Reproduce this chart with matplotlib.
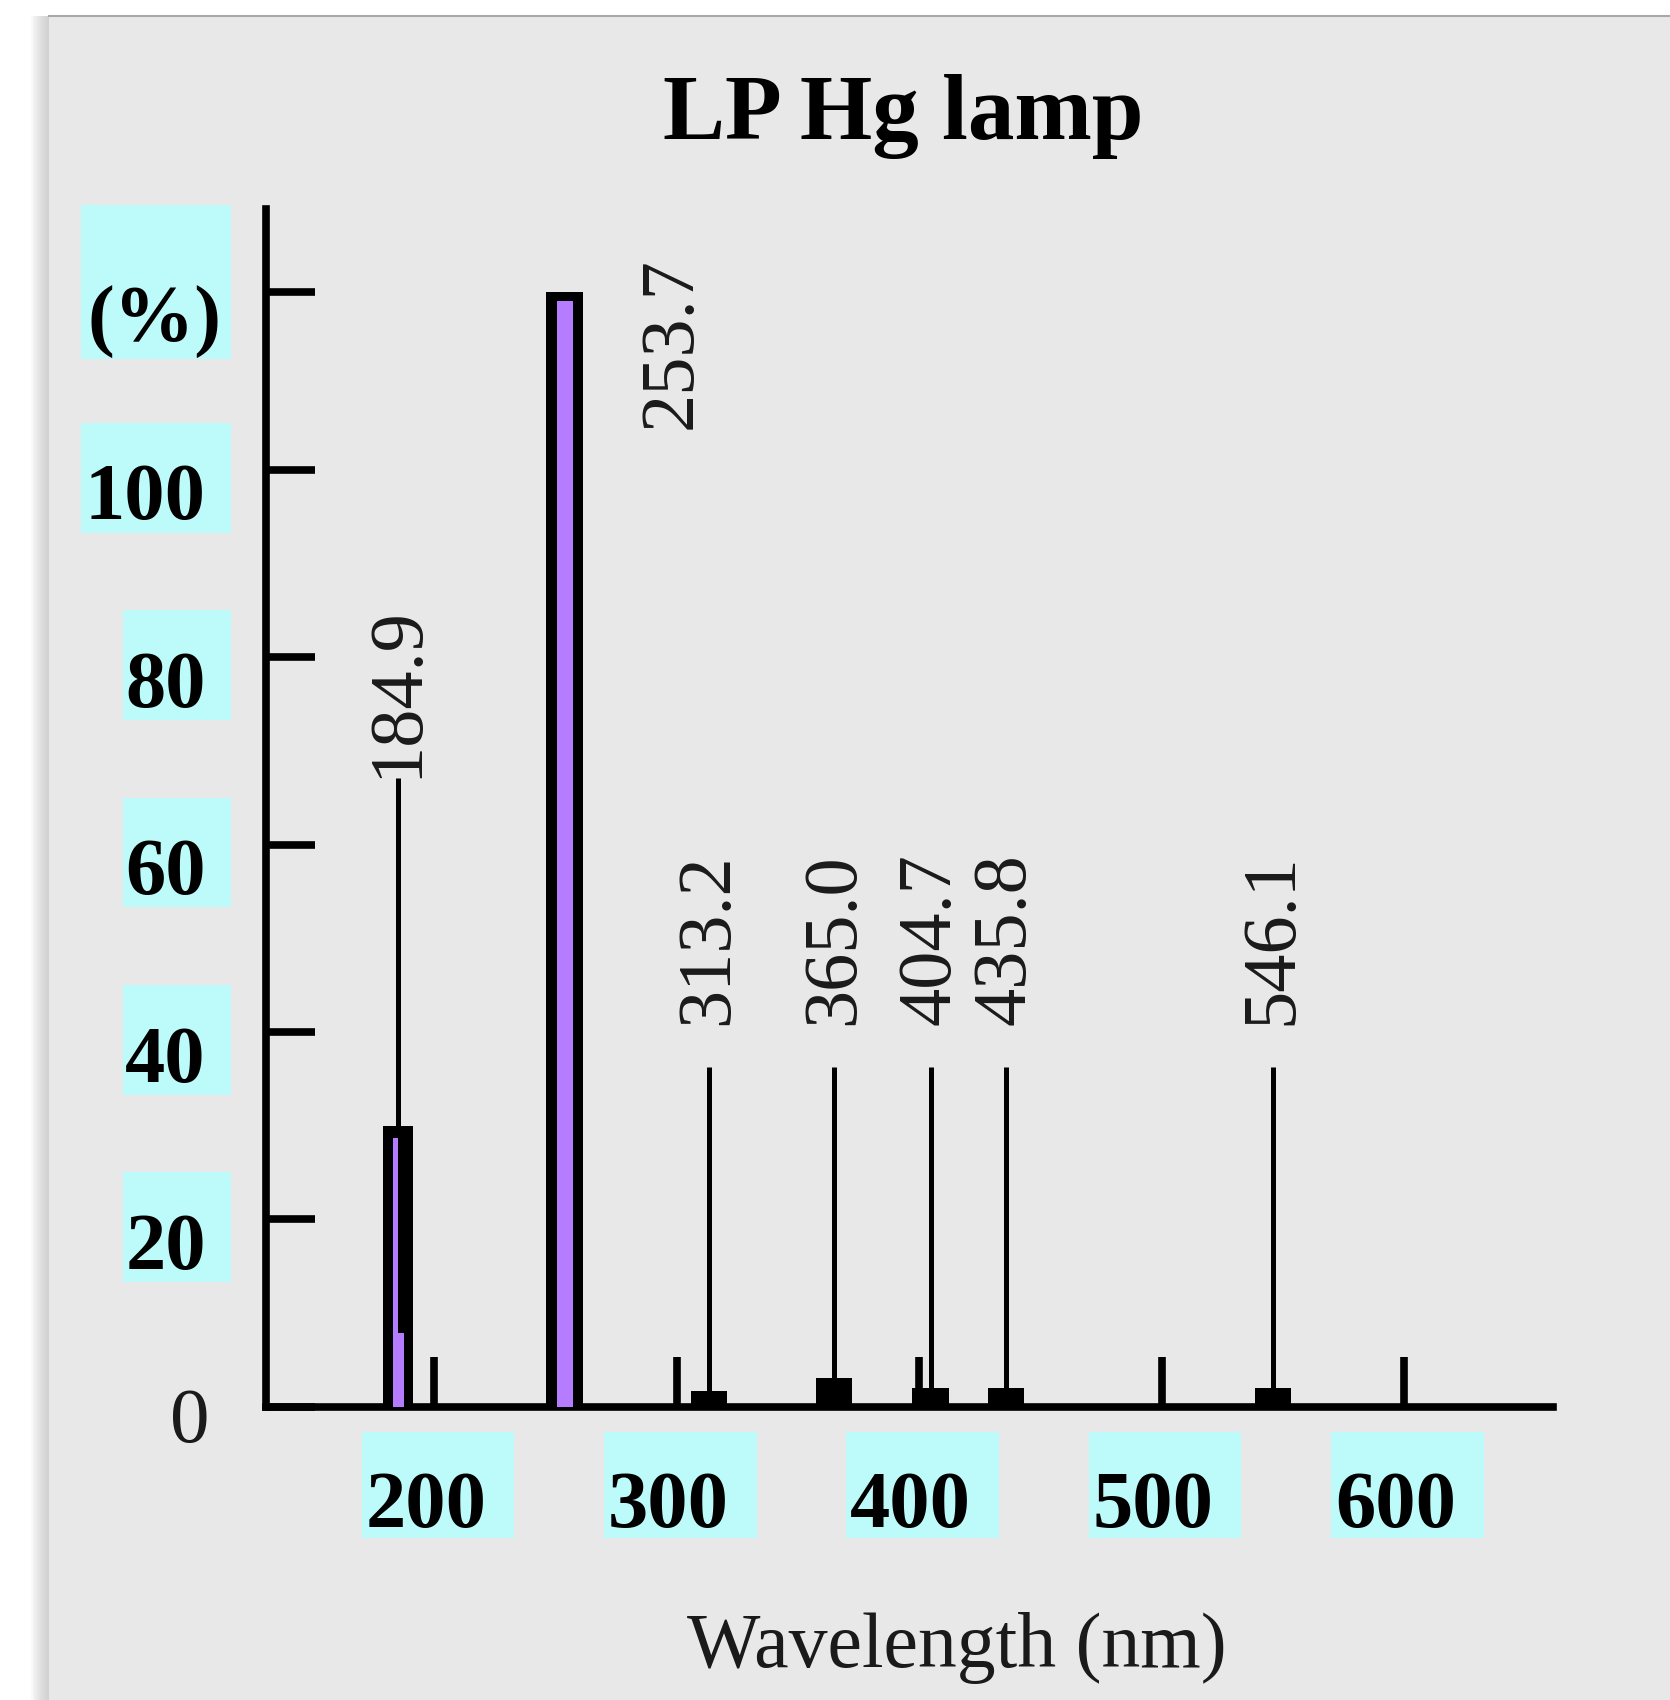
import numpy as np
import matplotlib.pyplot as plt
from matplotlib.patches import Rectangle

# Hg low-pressure lamp emission lines (nm) and relative intensity (%)
BIG_LINES = [184.9, 253.7]
BIG_HEIGHTS = [30.0, 119.0]
BIG_INNER = [7.9, 118.0]         # purple fill level inside the bars

SMALL_LINES = [313.2, 365.0, 404.7, 435.8, 546.1]
SMALL_HEIGHTS = [1.7, 3.1, 2.0, 2.0, 2.0]
LEADER_TOP = 36.3                 # top of the thin leader lines
LEADER_184 = 67.1                 # leader above the 184.9 bar

LINE_LABELS = ["184.9", "253.7", "313.2", "365.0", "404.7", "435.8", "546.1"]

Y_TICKS = [0, 20, 40, 60, 80, 100, 119]
Y_LABELS = ["0", "20", "40", "60", "80", "100", "(%)"]
X_TICKS = [200, 300, 400, 500, 600]
X_LABELS = ["200", "300", "400", "500", "600"]

PURPLE = "#B67CFF"
CYAN = "#BDFAFA"
SERIF = "Liberation Serif"

fig = plt.figure(figsize=(16.7, 17), dpi=100, facecolor="white")

# grey panel with a soft shadow on the left / top
for i in range(12):
    fig.patches.append(Rectangle((31 / 1670 + i * 1.5 / 1670, 0), 1, 1 - 16 / 1700,
                                 transform=fig.transFigure, facecolor="#B8B8B8",
                                 alpha=0.07, edgecolor="none", zorder=-10))
fig.patches.append(Rectangle((49 / 1670, 0), 1, 1 - 16 / 1700, transform=fig.transFigure,
                             facecolor="#E8E8E8", edgecolor="none", zorder=-9))
fig.lines.append(plt.Line2D([49 / 1670, 1], [1 - 16 / 1700] * 2, transform=fig.transFigure,
                            color="#A8A8A8", lw=1.5, zorder=-8))

ax = fig.add_axes([0.1591, 0.1726, 0.7708, 0.7042])
ax.set_facecolor("none")
ax.set_xlim(130.4, 661.5)
ax.set_ylim(0, 127.8)

for s in ["top", "right"]:
    ax.spines[s].set_visible(False)
for s in ["left", "bottom"]:
    ax.spines[s].set_linewidth(5.5)

ax.set_yticks(Y_TICKS)
ax.set_xticks(X_TICKS)
ax.tick_params(axis="y", direction="in", length=35, width=5.5, labelleft=False)
ax.tick_params(axis="x", direction="in", length=36, width=5.5, labelbottom=False)

# big bars: black body with purple core
ax.bar(BIG_LINES[0], BIG_HEIGHTS[0], width=12.4, color="black", zorder=2)
ax.bar(BIG_LINES[0] - 2.0, BIG_HEIGHTS[0] - 1.3, width=2.0, align="edge", color=PURPLE, zorder=3)
ax.bar(BIG_LINES[0] - 2.0, BIG_INNER[0], width=4.5, align="edge", color=PURPLE, zorder=3)
ax.vlines(BIG_LINES[0], BIG_HEIGHTS[0], LEADER_184, color="black", lw=3.6, zorder=2)

ax.bar(BIG_LINES[1], BIG_HEIGHTS[1], width=14.9, color="black", zorder=2)
ax.bar(BIG_LINES[1], BIG_INNER[1], width=6.6, color=PURPLE, zorder=3)

# small lines: base block plus thin leader
ax.bar(SMALL_LINES, SMALL_HEIGHTS, width=15, color="black", zorder=2)
ax.vlines(SMALL_LINES, 0, LEADER_TOP, color="black", lw=3.6, zorder=2)

# rotated wavelength labels
txt = dict(rotation=90, ha="center", va="bottom", family=SERIF, fontsize=55, color="#1a1a1a")
ax.text(BIG_LINES[0], LEADER_184, LINE_LABELS[0], **txt)
ax.text(BIG_LINES[1] + 44.3, 104.4, LINE_LABELS[1], **txt)
for wl, lab in zip(SMALL_LINES, LINE_LABELS[2:]):
    ax.text(wl, LEADER_TOP + 4.4, lab, **txt)

# y tick labels with cyan boxes
ytr = ax.get_yaxis_transform()
for v, lab in zip(Y_TICKS, Y_LABELS):
    if v == 0:
        ax.text(-0.0588, -3.8, lab, transform=ytr, ha="center", va="baseline",
                family=SERIF, fontsize=57, color="#1a1a1a", clip_on=False)
        continue
    x0 = -0.1435 if len(lab) == 3 else -0.111
    lo, hi = (-7.2, 9.3) if lab == "(%)" else (-6.7, 5.0)
    xr = -0.034 if lab == "(%)" else -0.0464
    ax.add_patch(Rectangle((x0, v + lo), -0.027 - x0, hi - lo, transform=ytr,
                           facecolor=CYAN, edgecolor="none", clip_on=False, zorder=1))
    ax.text(xr, v - 5.3, lab, transform=ytr, ha="right", va="baseline",
            family=SERIF, fontsize=58, fontweight="bold", clip_on=False, zorder=2)

# x tick labels with cyan boxes
for v, lab in zip(X_TICKS, X_LABELS):
    ax.add_patch(Rectangle((v - 30, -14.0), 63, 11.3, facecolor=CYAN,
                           edgecolor="none", clip_on=False, zorder=1))
    ax.text(v - 3.5, -12.9, lab, ha="center", va="baseline", family=SERIF,
            fontsize=58, fontweight="bold", clip_on=False, zorder=2)

fig.text(0.541, 1 - 139 / 1700, "LP Hg lamp", ha="center", va="baseline",
         family=SERIF, fontsize=67, fontweight="bold")
fig.text(0.573, 1 - 1667 / 1700, "Wavelength (nm)", ha="center", va="baseline",
         family=SERIF, fontsize=56, color="#1a1a1a")

plt.savefig("out.png", dpi=100, facecolor=fig.get_facecolor())
